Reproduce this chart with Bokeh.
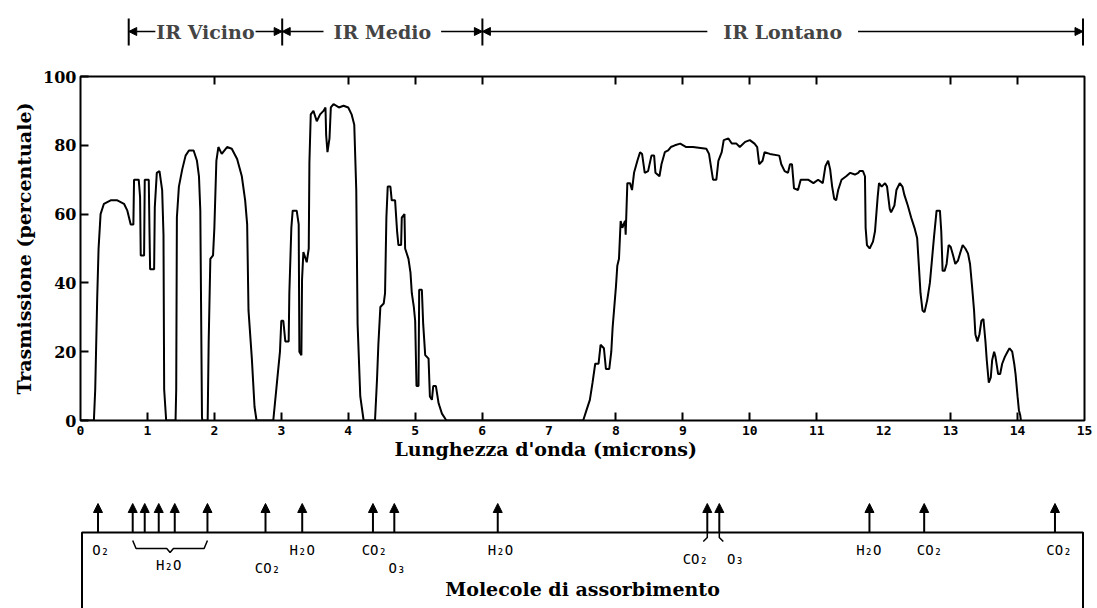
from bokeh.plotting import figure
from bokeh.layouts import column
from bokeh.models import (Range1d, FixedTicker, LinearAxis, Arrow, NormalHead,
                          Label, Title, ColumnDataSource)
from bokeh.embed import file_html
from bokeh.resources import INLINE
from bokeh.core.properties import value

# ---------------- data ----------------
wavelength = [
    0.0, 0.2, 0.22, 0.25, 0.27, 0.3, 0.35, 0.45, 0.55, 0.65, 0.7, 0.75, 0.79, 0.8, 0.87, 0.89, 0.9,
    0.95, 0.96, 1.02, 1.03, 1.04, 1.1, 1.11, 1.14, 1.18, 1.22, 1.24, 1.25, 1.28,
    1.42, 1.43, 1.44, 1.47, 1.52, 1.57, 1.62, 1.69, 1.74, 1.77, 1.79, 1.815, 1.82,
    1.9, 1.915, 1.94, 1.98, 2.0, 2.03, 2.06, 2.11, 2.19, 2.26, 2.34, 2.41, 2.46, 2.49, 2.51,
    2.56, 2.6, 2.63,
    2.88, 2.94, 2.98, 3.0, 3.03, 3.06, 3.11, 3.12, 3.15, 3.17, 3.23, 3.26, 3.27, 3.3, 3.31, 3.33,
    3.38, 3.41, 3.42, 3.44, 3.48, 3.53, 3.58, 3.63, 3.66, 3.67, 3.69, 3.72, 3.74, 3.78, 3.86, 3.93,
    4.0, 4.05, 4.09, 4.12, 4.14, 4.18, 4.23,
    4.4, 4.43, 4.45, 4.48, 4.53, 4.55, 4.57, 4.59, 4.63, 4.65, 4.70, 4.73, 4.75, 4.79, 4.8, 4.84,
    4.85, 4.9, 4.93, 4.95, 4.98, 5.0, 5.02, 5.05, 5.06, 5.1, 5.12, 5.15, 5.2, 5.22, 5.25, 5.27,
    5.31, 5.35, 5.4, 5.45, 5.47,
    7.51, 7.56, 7.61, 7.65, 7.69, 7.74, 7.77, 7.82, 7.85, 7.90, 7.93, 7.95, 7.975, 8.0, 8.02, 8.045,
    8.07, 8.095, 8.135, 8.145, 8.17, 8.21, 8.24, 8.27, 8.32, 8.36, 8.39, 8.43, 8.48, 8.53, 8.57,
    8.59, 8.65, 8.68, 8.73, 8.78, 8.82, 8.88, 8.96, 9.05, 9.15, 9.35, 9.39, 9.43, 9.45, 9.50, 9.53,
    9.58, 9.61, 9.68, 9.73, 9.80, 9.85, 9.93, 10.0, 10.07, 10.11, 10.14, 10.19, 10.22, 10.30,
    10.44, 10.47, 10.52, 10.57, 10.60, 10.63, 10.66, 10.72, 10.76, 10.87, 10.95, 11.02, 11.09,
    11.13, 11.17, 11.20, 11.23, 11.26, 11.29, 11.32, 11.37, 11.44, 11.50, 11.57, 11.62, 11.64,
    11.69, 11.72, 11.73, 11.75, 11.79, 11.84, 11.87, 11.91, 11.93, 11.97, 12.02, 12.05, 12.09,
    12.11, 12.16, 12.19, 12.24, 12.28, 12.31, 12.36, 12.41, 12.46, 12.50, 12.53, 12.55, 12.58,
    12.61, 12.65, 12.69, 12.72, 12.75, 12.79, 12.84, 12.86, 12.88, 12.91, 12.94, 12.97, 13.0,
    13.03, 13.07, 13.11, 13.14, 13.18, 13.22, 13.26, 13.29, 13.32, 13.35, 13.37, 13.40, 13.43,
    13.46, 13.49, 13.52, 13.54, 13.57, 13.60, 13.62, 13.65, 13.67, 13.71, 13.74, 13.77, 13.81,
    13.85, 13.88, 13.92, 13.95, 13.97, 14.0, 14.02, 14.04, 14.05,
]
transmission = [
    0, 0, 9, 36, 50, 60, 63, 64, 64, 63, 61, 57, 57, 70, 70, 65, 48,
    48, 70, 70, 56, 44, 44, 62, 72, 72.5, 67, 54, 9, 0,
    0, 9, 59, 68, 73, 77, 78.5, 78.5, 75.5, 71, 61, 1, 0,
    0, 23, 47, 48, 56, 75.5, 79.5, 77.5, 79.5, 79, 76, 71, 64, 57, 32,
    18, 4, 0,
    0, 12, 20, 29, 29, 23, 23, 37, 56, 61, 61, 57, 20, 19, 41, 49,
    46, 50, 75, 89, 90, 87, 89, 90, 91, 83, 78, 82, 91, 92, 91, 91.5,
    91, 89, 86, 67, 28, 7, 0,
    0, 12, 22, 33, 34, 37, 59, 68, 68, 64, 64, 55, 51, 51, 59, 60,
    50, 47, 43, 37, 33, 29, 10, 10, 38, 38, 28, 19, 18, 7, 6, 10,
    10, 5, 2, 0.5, 0,
    0, 3, 6, 11, 16.5, 16.5, 22, 21, 15, 15, 20, 27, 33, 39, 45, 47,
    58, 56, 58, 54, 69, 69, 67, 72, 75.5, 78, 77.5, 72, 72.5, 77, 77,
    72, 71, 74.5, 78, 78.5, 79.5, 80, 80.5, 79.5, 79.5, 79, 77.5, 72.5, 70, 70, 75.5,
    78, 81.5, 82, 80.5, 80.5, 79.5, 81, 81.5, 80.5, 79.5, 74.5, 75.5, 78, 77.5,
    77, 74.5, 72.5, 72, 74.5, 74.5, 67.5, 67, 70, 70, 69, 70, 69,
    74, 75.5, 73, 68, 64.5, 64, 67, 70, 71, 72, 71.5, 72, 72.5,
    72.5, 71, 56, 51, 50, 52, 55, 65, 69, 68, 69, 68, 61.5,
    60.5, 62.5, 67, 69, 68, 65.5, 62.5, 59, 56, 53, 43.5, 37, 32,
    31.5, 35, 40, 46.5, 53, 61, 61, 55, 43.5, 43.5, 45.5, 51, 50.5,
    48.5, 45.5, 46.5, 48.5, 51, 50, 48.5, 45.5, 39, 32, 25, 23, 25,
    29, 29.5, 23, 17.5, 11, 12.5, 17.5, 20, 18.5, 13.5, 13.5, 16.5, 18.5,
    20, 21, 20, 16.5, 13.5, 7, 3, 1.5, 0,
]

x_ticks = list(range(16))
x_tick_marks_bottom = [1, 2, 3, 4, 5, 6, 8, 9, 10, 11, 13, 14]
x_tick_marks_top = [2, 4, 5, 6, 8, 9, 10, 11, 13, 14]
y_ticks = [0, 20, 40, 60, 80, 100]

band_names = ["IR Vicino", "IR Medio", "IR Lontano"]
band_edges = [0.7, 3.0, 6.0, 15.0]

absorb_x = [0.24, 0.76, 0.94, 1.15, 1.39, 1.88, 2.75, 3.30, 4.36, 4.68, 6.23,
            9.37, 9.55, 11.80, 12.62, 14.58]
mol_labels = ["O₂", "H₂O", "CO₂", "H₂O", "CO₂", "O₃", "H₂O", "CO₂", "O₃",
              "H₂O", "CO₂", "CO₂"]
mol_label_x = [0.28, 1.30, 2.78, 3.30, 4.38, 4.72, 6.27, 9.19, 9.79, 11.79, 12.70, 14.64]
mol_label_row = [0, 3, 1, 0, 0, 1, 0, 2, 2, 0, 0, 0]

# ---------------- layout constants ----------------
W = 1097
BL, BR = 80, 13
XMAX = 15
PPU = (W - BL - BR) / XMAX
EPS = 1.5 / PPU
SERIF = "DejaVu Serif"
MONO = "DejaVu Sans Mono"

# ---------------- top bracket ----------------
TH = 64
top = figure(width=W, height=TH, x_range=Range1d(-EPS, XMAX + EPS), y_range=Range1d(0, TH),
             x_axis_type=None, y_axis_type=None, toolbar_location=None,
             output_backend="svg", min_border_left=BL, min_border_right=BR,
             min_border_top=0, min_border_bottom=0)
top.outline_line_color = None
YB = 33
top.segment(x0=band_edges, y0=[19] * len(band_edges), x1=band_edges,
            y1=[46] * len(band_edges), line_color="black", line_width=2)
pads = [1, 10, 16]
for a, b in zip(band_edges[:-1], band_edges[1:]):
    top.add_layout(Arrow(x_start=a, y_start=YB, x_end=b, y_end=YB,
                         start=NormalHead(size=8, fill_color="black", line_color="black"),
                         end=NormalHead(size=8, fill_color="black", line_color="black"),
                         line_width=1.5, line_color="black"))
for a, b, name, pad in zip(band_edges[:-1], band_edges[1:], band_names, pads):
    top.add_layout(Label(x=(a + b) / 2, y=YB, text=name, text_align="center",
                         text_baseline="middle", text_font=SERIF, text_font_style="bold",
                         text_font_size="19px", background_fill_color="white",
                         padding=pad))

# ---------------- main chart ----------------
p = figure(width=W, height=404, x_range=Range1d(0, XMAX), y_range=Range1d(0, 100),
           toolbar_location=None, output_backend="svg",
           min_border_left=BL, min_border_right=BR, min_border_top=12, min_border_bottom=48)
p.grid.visible = False
p.outline_line_color = "black"
p.outline_line_width = 2

xa = p.xaxis[0]
xa.ticker = FixedTicker(ticks=x_ticks, minor_ticks=x_tick_marks_bottom)
xa.major_tick_line_color = None
xa.major_tick_in = 0
xa.major_tick_out = 0
xa.minor_tick_in = 8
xa.minor_tick_out = 0
xa.minor_tick_line_width = 2
xa.minor_tick_line_color = "black"
xa.axis_line_color = None
xa.major_label_text_font = MONO
xa.major_label_text_font_style = "bold"
xa.major_label_text_font_size = "13px"
xa.major_label_text_color = "black"
xa.major_label_standoff = 5

ya = p.yaxis[0]
ya.ticker = FixedTicker(ticks=y_ticks)
ya.major_tick_in = 8
ya.major_tick_out = 0
ya.major_tick_line_width = 2
ya.major_tick_line_color = "black"
ya.minor_tick_line_color = None
ya.axis_line_color = None
ya.major_label_text_font = SERIF
ya.major_label_text_font_style = "bold"
ya.major_label_text_font_size = "16px"
ya.major_label_text_color = "black"
ya.major_label_standoff = 4
ya.axis_label = "Trasmissione (percentuale)"
ya.axis_label_text_font = SERIF
ya.axis_label_text_font_style = "bold"
ya.axis_label_text_font_size = "19px"
ya.axis_label_text_color = "black"
ya.axis_label_standoff = 5

top_axis = LinearAxis(ticker=FixedTicker(ticks=[], minor_ticks=x_tick_marks_top),
                      axis_line_color=None, major_tick_line_color=None,
                      minor_tick_in=8, minor_tick_out=0, minor_tick_line_width=2,
                      minor_tick_line_color="black")
p.add_layout(top_axis, "above")

p.add_layout(Title(text="Lunghezza d'onda (microns)", align="left", offset=314,
                   text_font=SERIF, text_font_style="bold", text_font_size="19px",
                   text_color="black", standoff=-4), "below")

p.line(wavelength, transmission, line_color="black", line_width=2)

# ---------------- absorbing molecules ----------------
BH = 140
bot = figure(width=W, height=BH, x_range=Range1d(-EPS, XMAX + EPS), y_range=Range1d(0, BH),
             x_axis_type=None, y_axis_type=None, toolbar_location=None,
             output_backend="svg", min_border_left=BL, min_border_right=BR,
             min_border_top=0, min_border_bottom=0)
bot.outline_line_color = None
YL = 76
bot.line(x=[0, 0, XMAX, XMAX], y=[0, YL, YL, 0], line_color="black", line_width=2)

n = len(absorb_x)
src = ColumnDataSource(dict(x=absorb_x, y0=[YL] * n, y1=[YL + 29] * n))
bot.add_layout(Arrow(source=src, x_start="x", y_start="y0", x_end="x", y_end="y1",
                     end=NormalHead(size=9, fill_color="black", line_color="black"),
                     line_width=2, line_color="black"))

row_y = {0: 59, 1: 41, 2: 50, 3: 44}
bot.text(x=mol_label_x, y=[row_y[r] for r in mol_label_row], text=mol_labels,
         text_font=value(MONO), text_font_size="14px", text_align="center",
         text_baseline="middle", text_color="black")

# brace under the H2O group
bx0, bx1 = absorb_x[1], absorb_x[5]
mid = (bx0 + bx1) / 2
bot.line(x=[bx0, bx0 + 0.05, mid - 0.05, mid, mid + 0.05, bx1 - 0.05, bx1],
         y=[68, 60, 60, 56, 60, 60, 68], line_color="black", line_width=1.5)
# hooks for the CO2 / O3 pair
a, b = absorb_x[11], absorb_x[12]
bot.multi_line(xs=[[a, a, a - 0.06], [b, b, b + 0.06]],
               ys=[[YL, 71, 67], [YL, 71, 67]], line_color="black", line_width=1.5)

bot.text(x=[XMAX / 2], y=[20], text=["Molecole di assorbimento"],
         text_font=value(SERIF), text_font_style="bold", text_font_size="19px",
         text_align="center", text_baseline="middle", text_color="black")

layout = column(top, p, bot)
open("out.html", "w").write(file_html(layout, INLINE))
